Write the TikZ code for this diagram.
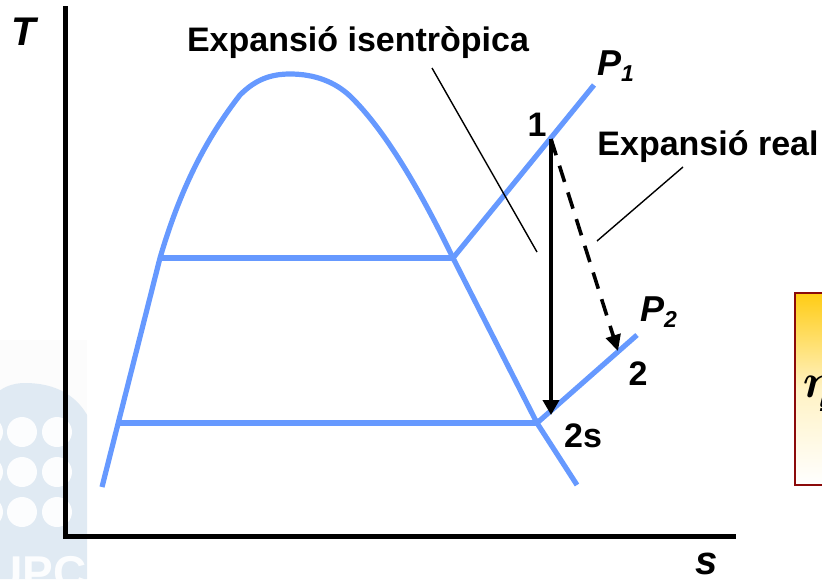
\documentclass[tikz,border=0pt]{standalone}
\usepackage{fontspec}
\setmainfont{Liberation Sans}
\usetikzlibrary{arrows.meta}
\definecolor{curve}{HTML}{6699FF}
\definecolor{logo}{HTML}{E0EAF3}
\definecolor{boxred}{HTML}{8B0A0A}
\definecolor{boxyel}{HTML}{FFCC14}
\tikzset{
  x=1pt,y=-1pt,
  lbl/.style={font=\fontsize{34}{36}\selectfont\bfseries,inner sep=0pt,text=black},
  ilbl/.style={font=\fontsize{36}{38}\selectfont\bfseries\itshape,inner sep=0pt,text=black},
  axlbl/.style={font=\fontsize{40}{42}\selectfont\bfseries\itshape,inner sep=0pt,text=black},
  curveline/.style={draw=curve,line width=5.2pt,line join=round},
  axisline/.style={draw=black,line width=5pt},
  thinline/.style={draw=black,line width=1.4pt},
  solidarrow/.style={draw=black,line width=4pt,-{Triangle[length=15pt,width=16pt]}},
  dasharrow/.style={draw=black,line width=3.6pt,dash pattern=on 17pt off 11pt,-{Triangle[length=16pt,width=15pt]}},
}
\begin{document}
\begin{tikzpicture}
\useasboundingbox (0,0) rectangle (822,579);
% faint logo
\begin{scope}
  \clip (0,340) rectangle (87,579);
  \fill[black!1] (0,340) rectangle (87,579);
  \fill[logo] (-20,579) -- (-20,440) .. controls (-20,400) and (0,383) .. (25,383)
     .. controls (55,383) and (80,395) .. (92,425) -- (92,579) -- cycle;
  \foreach \px in {-12,22,57} \foreach \py in {432,472,512}
    \fill[white!92!logo] (\px,\py) circle (15);
  \node[font=\fontsize{46}{46}\selectfont\bfseries,text=white!92!logo,inner sep=0pt,anchor=base] at (38,588) {UPC};
\end{scope}
% box
\begin{scope}
  \clip (0,0) rectangle (822,579);
  \shade[top color=boxyel,bottom color=white,middle color=boxyel!25!white] (795,293) rectangle (840,485);
  \draw[boxred,line width=2.6pt] (840,293) -- (795,293) -- (795,485) -- (840,485);
  \node[inner sep=0pt,anchor=base west,scale=4.8,font=\boldmath] (eta) at (802,397) {$\eta$};
  \node[inner sep=0pt,anchor=base west,font=\fontsize{26}{26}\selectfont\bfseries\itshape] (etasub) at (818,426) {T};
\end{scope}
% coordinates
\coordinate (o) at (65.5,536);
\coordinate (ytop) at (65.5,8);
\coordinate (xend) at (733,536);
\coordinate (a) at (102,487);
\coordinate (b) at (160,258);
\coordinate (c) at (453,258);
\coordinate (d) at (537,423);
\coordinate (e) at (577,485);
\coordinate (f) at (118,423);
\coordinate (p1) at (594,85);
\coordinate (p2) at (637,335);
\coordinate (n1) at (551,139);
\coordinate (n2s) at (551,415);
\coordinate (n2) at (618,351);
% curves
\draw[curveline] (a) -- (b) .. controls (180,190) and (205,140) .. (240,95)
  .. controls (255,80) and (270,74) .. (290,74)
  .. controls (315,74) and (335,82) .. (350,96)
  .. controls (385,130) and (420,190) .. (c) -- (d) -- (e);
\draw[curveline] (b) -- (c);
\draw[curveline] (f) -- (d);
\draw[curveline] (c) -- (p1);
\draw[curveline] (d) -- (p2);
% axes
\draw[axisline,line cap=rect] (ytop) -- (o) -- (xend);
% arrows
\draw[solidarrow] (n1) -- (n2s);
\draw[dasharrow] (n1) -- (n2);
% labels
\node[axlbl] (T) at (24,32) {T};
\node[axlbl] (S) at (707,564) {s};
\node[lbl] (iso) at (358,43) {Expansió isentròpica};
\node[lbl] (real) at (708,147) {Expansió real};
\node[lbl] (l1) at (537,125) {1};
\node[lbl] (l2) at (638,374) {2};
\node[lbl] (l2s) at (583,436) {2s};
\node[ilbl,anchor=base west] (lp1) at (597,75) {P\raisebox{-6pt}{\fontsize{23}{23}\selectfont 1}};
\node[ilbl,anchor=base west] (lp2) at (640,321) {P\raisebox{-6pt}{\fontsize{23}{23}\selectfont 2}};
% leader lines
\coordinate (isoa) at (432,68);
\coordinate (isob) at (537,252);
\coordinate (reala) at (683,167);
\coordinate (realb) at (597,241);
\draw[thinline] (isoa) -- (isob);
\draw[thinline] (reala) -- (realb);
\end{tikzpicture}
\end{document}
